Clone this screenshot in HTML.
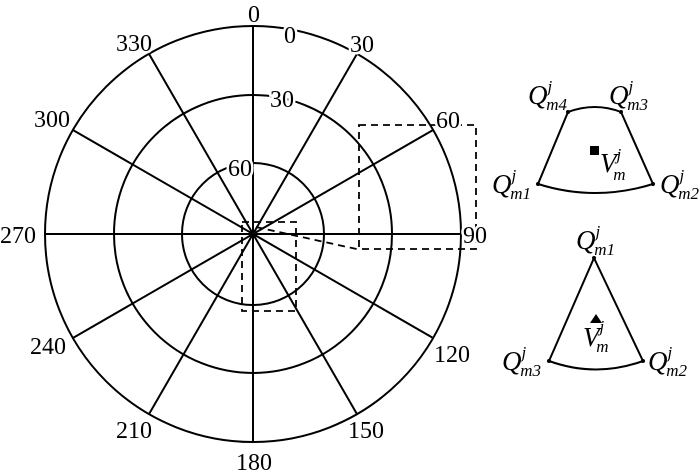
<!DOCTYPE html>
<html><head><style>body{margin:0;background:#fff}svg{display:block}</style></head><body>
<svg width="700" height="474" viewBox="0 0 700 474" xmlns="http://www.w3.org/2000/svg" font-family="Liberation Serif, serif" font-size="24">
<g fill="none" stroke="#000" stroke-width="2">
<circle cx="253" cy="234" r="208"/>
<circle cx="253" cy="234" r="139"/>
<circle cx="253" cy="234" r="71"/>
<line x1="253" y1="26" x2="253" y2="442"/>
<line x1="149" y1="53.9" x2="357" y2="414.1"/>
<line x1="72.9" y1="130" x2="433.1" y2="338"/>
<line x1="45" y1="234" x2="461" y2="234"/>
<line x1="72.9" y1="338" x2="433.1" y2="130"/>
<line x1="149" y1="414.1" x2="357" y2="53.9"/>
</g>
<g fill="none" stroke="#000" stroke-width="1.8" stroke-dasharray="7,5">
<rect x="359" y="125" width="117" height="124"/>
<rect x="242" y="222" width="54" height="89"/>
<line x1="256" y1="227" x2="361" y2="250"/>
</g>
<g fill="#000" stroke="#fff" stroke-width="5" paint-order="stroke" text-anchor="middle">
<text x="254" y="22">0</text>
<text x="290" y="43">0</text>
<text x="362" y="52">30</text>
<text x="282" y="107">30</text>
<text x="240" y="176">60</text>
<text x="448" y="128">60</text>
<text x="475" y="243">90</text>
<text x="452" y="362">120</text>
<text x="366" y="438">150</text>
<text x="254" y="470">180</text>
<text x="134" y="438">210</text>
<text x="48" y="354">240</text>
<text x="18" y="243">270</text>
<text x="52" y="127">300</text>
<text x="134" y="51">330</text>
</g>
<g fill="none" stroke="#000" stroke-width="2">
<path d="M568,112 Q595,102 621,112 L653,184 Q595,202 538,184 Z"/>
<path d="M594,258 L643,361 Q596,378 549,361 Z"/>
</g>
<g fill="#000">
<circle cx="568" cy="112" r="2"/><circle cx="621" cy="112" r="2"/><circle cx="538" cy="184" r="2"/><circle cx="653" cy="184" r="2"/>
<circle cx="594" cy="258" r="2"/><circle cx="643" cy="361" r="2"/><circle cx="549" cy="361" r="2"/>
<rect x="590" y="146" width="9" height="9"/>
<polygon points="596,314 602,323 590,323"/>
</g>
<g font-style="italic" fill="#000" font-size="27">
<text x="528" y="104">Q<tspan font-size="17" dy="-12">j</tspan><tspan font-size="17" dx="-6" dy="18">m4</tspan></text>
<text x="609" y="104">Q<tspan font-size="17" dy="-12">j</tspan><tspan font-size="17" dx="-6" dy="18">m3</tspan></text>
<text x="492" y="193">Q<tspan font-size="17" dy="-12">j</tspan><tspan font-size="17" dx="-6" dy="18">m1</tspan></text>
<text x="660" y="193">Q<tspan font-size="17" dy="-12">j</tspan><tspan font-size="17" dx="-6" dy="18">m2</tspan></text>
<text x="600" y="172">V<tspan font-size="17" dy="-12">j</tspan><tspan font-size="17" dx="-8" dy="20">m</tspan></text>
<text x="576" y="249">Q<tspan font-size="17" dy="-12">j</tspan><tspan font-size="17" dx="-6" dy="18">m1</tspan></text>
<text x="502" y="370">Q<tspan font-size="17" dy="-12">j</tspan><tspan font-size="17" dx="-6" dy="18">m3</tspan></text>
<text x="648" y="370">Q<tspan font-size="17" dy="-12">j</tspan><tspan font-size="17" dx="-6" dy="18">m2</tspan></text>
<text x="583" y="346">V<tspan font-size="17" dy="-14">j</tspan><tspan font-size="17" dx="-8" dy="20">m</tspan></text>
</g>
</svg>
</body></html>
